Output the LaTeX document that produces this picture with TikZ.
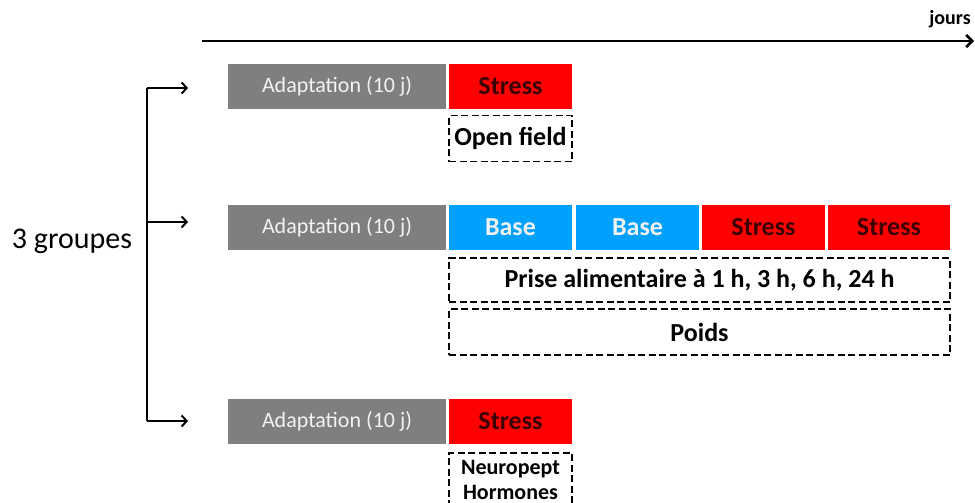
\documentclass[tikz,border=0pt]{standalone}
\usepackage{fontspec}
\setmainfont{Carlito}
\usetikzlibrary{arrows.meta}
\definecolor{adgray}{RGB}{127,127,127}
\definecolor{strred}{RGB}{255,0,0}
\definecolor{baseblue}{RGB}{0,160,255}
\definecolor{strtext}{RGB}{60,0,0}
\definecolor{adtext}{RGB}{242,242,242}
\begin{document}
\begin{tikzpicture}[x=1pt,y=-1pt,
  bar/.style={minimum height=45pt,inner sep=0pt,outer sep=0pt},
  adbox/.style={bar,fill=adgray,text=adtext,minimum width=218pt,font=\fontsize{22}{26}\selectfont},
  strbox/.style={bar,fill=strred,text=strtext,minimum width=123pt,font=\bfseries\fontsize{26}{30}\selectfont},
  basebox/.style={bar,fill=baseblue,text=adtext,minimum width=123pt,font=\bfseries\fontsize{26}{30}\selectfont},
  measbox/.style={draw=black,line width=1.9pt,dash pattern=on 7pt off 3.5pt,inner sep=0pt,font=\bfseries\fontsize{26}{30}\selectfont},
  arr/.style={line width=2pt,-{Straight Barb[length=5pt,width=11pt,line width=2pt]}}
]
\useasboundingbox (0,0) rectangle (975,503);
\clip (0,0) rectangle (975,503);
% timeline
\coordinate (t0) at (202,41);
\coordinate (t1) at (974,41);
\draw[line width=2.5pt,-{Straight Barb[length=6pt,width=12pt,line width=2.5pt]}] (t0) -- (t1);
\node[font=\bfseries\fontsize{20}{24}\selectfont] (jours) at (950,19) {jours};
% row 1
\node[adbox] (a1) at (337,86.5) {Adaptation (10 j)};
\node[strbox] (s1) at (510.5,86.5) {Stress};
\node[measbox,minimum width=123pt,minimum height=46pt] (of) at (510.5,138.5) {Open field};
% row 2
\node[adbox] (a2) at (337,227.5) {Adaptation (10 j)};
\node[basebox] (b1) at (510.5,227.5) {Base};
\node[basebox] (b2) at (637.5,227.5) {Base};
\node[strbox] (s2) at (763.5,227.5) {Stress};
\node[strbox,minimum width=122pt] (s3) at (889,227.5) {Stress};
\node[measbox,minimum width=501pt,minimum height=44pt] (pa) at (699.5,280) {Prise alimentaire à 1 h, 3 h, 6 h, 24 h};
\node[measbox,minimum width=501pt,minimum height=46pt] (po) at (699.5,332) {Poids};
% row 3
\node[adbox] (a3) at (337,421.5) {Adaptation (10 j)};
\node[strbox] (s4) at (510.5,421.5) {Stress};
\node[measbox,anchor=north,text width=123pt,inner xsep=0pt,inner ysep=7pt,align=center,font=\bfseries\fontsize{22}{25}\selectfont] (np) at (510.5,452) {Neuropept\\Hormones\\[8pt]};
% bracket
\coordinate (k1) at (147,88);
\coordinate (k2) at (147,222);
\coordinate (k3) at (147,421);
\coordinate (e1) at (188,88);
\coordinate (e2) at (188,222);
\coordinate (e3) at (188,421);
\draw[line width=2pt] (k1) -- (k3);
\draw[arr] (k1) -- (e1);
\draw[arr] (k2) -- (e2);
\draw[arr] (k3) -- (e3);
\node[font=\fontsize{30}{36}\selectfont] (grp) at (72,241) {3 groupes};
\end{tikzpicture}
\end{document}
